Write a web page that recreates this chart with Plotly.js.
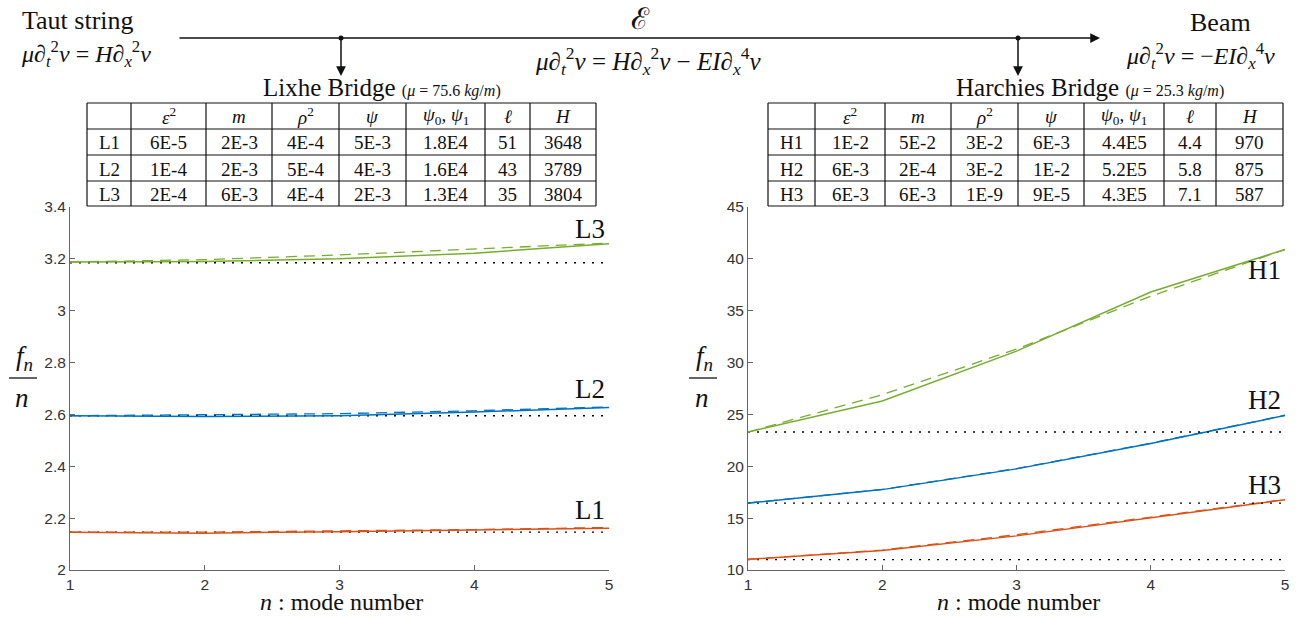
<!DOCTYPE html>
<html>
<head>
<meta charset="utf-8">
<script src="https://cdn.plot.ly/plotly-3.0.1.min.js"></script>
<style>html,body{margin:0;padding:0;background:#fff;}#chart{width:1302px;height:617px;}</style>
</head>
<body>
<div id="chart"></div>
<script>
// ---------- data ----------
const modes = [1, 2, 3, 4, 5];

// Lixhe bridge (left)
const L1_solid  = [2.146, 2.142, 2.148, 2.154, 2.161];
const L1_dashed = [2.146, 2.146, 2.151, 2.156, 2.164];
const L1_base   = 2.146;
const L2_solid  = [2.595, 2.592, 2.595, 2.609, 2.627];
const L2_dashed = [2.595, 2.598, 2.603, 2.614, 2.629];
const L2_base   = 2.595;
const L3_solid  = [3.188, 3.190, 3.200, 3.222, 3.258];
const L3_dashed = [3.188, 3.197, 3.215, 3.237, 3.261];
const L3_base   = 3.185;

// Harchies bridge (right)
const H1_solid  = [23.3, 26.3, 31.1, 36.8, 40.9];
const H1_dashed = [23.3, 26.9, 31.3, 36.4, 40.9];
const H1_base   = 23.3;
const H2_solid  = [16.45, 17.75, 19.75, 22.2, 24.9];
const H2_dashed = [16.45, 17.77, 19.78, 22.22, 24.92];
const H2_base   = 16.45;
const H3_solid  = [11.03, 11.87, 13.29, 15.0, 16.77];
const H3_dashed = [11.03, 11.92, 13.40, 15.10, 16.80];
const H3_base   = 11.0;

// tables
const tableHeader = ["", "<i>ε</i><sup>2</sup>", "<i>m</i>", "<i>ρ</i><sup>2</sup>", "<i>ψ</i>", "<i>ψ</i><sub>0</sub>, <i>ψ</i><sub>1</sub>", "<i>ℓ</i>", "<i>H</i>"];
const L_names = ["L1", "L2", "L3"];
const L_eps2  = ["6E-5", "1E-4", "2E-4"];
const L_m     = ["2E-3", "2E-3", "6E-3"];
const L_rho2  = ["4E-4", "5E-4", "4E-4"];
const L_psi   = ["5E-3", "4E-3", "2E-3"];
const L_psi01 = ["1.8E4", "1.6E4", "1.3E4"];
const L_ell   = ["51", "43", "35"];
const L_H     = ["3648", "3789", "3804"];
const H_names = ["H1", "H2", "H3"];
const H_eps2  = ["1E-2", "6E-3", "6E-3"];
const H_m     = ["5E-2", "2E-4", "6E-3"];
const H_rho2  = ["3E-2", "3E-2", "1E-9"];
const H_psi   = ["6E-3", "1E-2", "9E-5"];
const H_psi01 = ["4.4E5", "5.2E5", "4.3E5"];
const H_ell   = ["4.4", "5.8", "7.1"];
const H_H     = ["970", "875", "587"];

// ---------- styling ----------
const GREEN = '#77AC30', BLUE = '#0072BD', RED = '#D95319';
const SERIF = 'Liberation Serif, DejaVu Serif, serif';
const SANS = 'Liberation Sans, Arial, sans-serif';
const W = 1302, H = 617;
const px = x => x / W;
const py = y => 1 - y / H;
const DASH = '11px,7px';
const DOT = '2px,7px';

const traces = [];
function addSet(xa, ya, solid, dashed, base, color) {
  traces.push({x: modes, y: [base, base, base, base, base], xaxis: xa, yaxis: ya, mode: 'lines',
    line: {color: '#000', width: 1.4, dash: DOT}, hoverinfo: 'skip'});
  traces.push({x: modes, y: dashed, xaxis: xa, yaxis: ya, mode: 'lines',
    line: {color: color, width: 1.3, dash: DASH}});
  traces.push({x: modes, y: solid, xaxis: xa, yaxis: ya, mode: 'lines',
    line: {color: color, width: 1.5}});
}
addSet('x', 'y', L1_solid, L1_dashed, L1_base, RED);
addSet('x', 'y', L2_solid, L2_dashed, L2_base, BLUE);
addSet('x', 'y', L3_solid, L3_dashed, L3_base, GREEN);
addSet('x2', 'y2', H3_solid, H3_dashed, H3_base, RED);
addSet('x2', 'y2', H2_solid, H2_dashed, H2_base, BLUE);
addSet('x2', 'y2', H1_solid, H1_dashed, H1_base, GREEN);

const axisCommon = {
  showgrid: false, zeroline: false, showline: true, linecolor: '#666', linewidth: 1,
  ticks: 'inside', ticklen: 5, tickcolor: '#666', tickwidth: 1,
  tickfont: {family: SANS, size: 15.5, color: '#333'}, fixedrange: true
};

const ann = [];
const shapes = [];
function txt(text, x, y, size, extra) {
  ann.push(Object.assign({text: text, x: px(x), y: py(y), xref: 'paper', yref: 'paper',
    showarrow: false, xanchor: 'center', yanchor: 'middle', borderpad: 0,
    font: {family: SERIF, size: size, color: '#111'}}, extra || {}));
}
function hline(x0, x1, y, w) {
  shapes.push({type: 'line', xref: 'paper', yref: 'paper', x0: px(x0), x1: px(x1), y0: py(y), y1: py(y), line: {color: '#111', width: w || 1}});
}
function vline(x, y0, y1, w) {
  shapes.push({type: 'line', xref: 'paper', yref: 'paper', x0: px(x), x1: px(x), y0: py(y0), y1: py(y1), line: {color: '#111', width: w || 1}});
}
// tables drawn from the arrays
function drawTable(cols, xb, yb) {
  yb.forEach(y => hline(xb[0], xb[xb.length - 1], y, 1.2));
  xb.forEach(x => vline(x, yb[0], yb[yb.length - 1], 1.2));
  tableHeader.forEach((h, j) => { if (h) txt(h, (xb[j] + xb[j + 1]) / 2, (yb[0] + yb[1]) / 2, 19); });
  cols.forEach((col, j) => col.forEach((v, i) =>
    txt(v, (xb[j] + xb[j + 1]) / 2, (yb[i + 1] + yb[i + 2]) / 2 + 1, 19)));
}
drawTable([L_names, L_eps2, L_m, L_rho2, L_psi, L_psi01, L_ell, L_H],
  [87, 131, 206, 272, 339, 406, 485, 530, 596], [103, 129, 155, 181, 206]);
drawTable([H_names, H_eps2, H_m, H_rho2, H_psi, H_psi01, H_ell, H_H],
  [768, 815, 885, 951, 1018, 1084, 1164, 1216, 1283], [103, 129, 155, 181, 206]);

// header
txt('Taut string', 78, 20, 26);
txt('<i>μ</i>∂<sub><i>t</i></sub><sup>2</sup><i>v</i> = <i>H</i>∂<sub><i>x</i></sub><sup>2</sup><i>v</i>', 86, 54, 24);
txt('ℰ', 640, 18, 30);
txt('<i>μ</i>∂<sub><i>t</i></sub><sup>2</sup><i>v</i> = <i>H</i>∂<sub><i>x</i></sub><sup>2</sup><i>v</i> − <i>EI</i>∂<sub><i>x</i></sub><sup>4</sup><i>v</i>', 648, 61, 25);
txt('Beam', 1220, 23, 26);
txt('<i>μ</i>∂<sub><i>t</i></sub><sup>2</sup><i>v</i> = −<i>EI</i>∂<sub><i>x</i></sub><sup>4</sup><i>v</i>', 1200, 56, 24);
txt('Lixhe Bridge <span style="font-size:16px">(<i>μ</i> = 75.6 <i>kg</i>/<i>m</i>)</span>', 382, 87, 25);
txt('Harchies Bridge <span style="font-size:16px">(<i>μ</i> = 25.3 <i>kg</i>/<i>m</i>)</span>', 1090, 87, 25);
// arrows
function arrow(x0, y0, x1, y1) {
  ann.push({x: px(x1), y: py(y1), ax: px(x0), ay: py(y0), xref: 'paper', yref: 'paper',
    axref: 'paper', ayref: 'paper', text: '', showarrow: true, arrowhead: 2, arrowsize: 1.3,
    arrowwidth: 1.5, arrowcolor: '#111'});
}
arrow(178, 38, 1100, 38);
arrow(341, 38, 341, 76);
arrow(1018, 38, 1018, 76);
shapes.push({type: 'circle', xref: 'paper', yref: 'paper', x0: px(338.5), x1: px(343.5), y0: py(40.5), y1: py(35.5), fillcolor: '#111', line: {width: 0}});
shapes.push({type: 'circle', xref: 'paper', yref: 'paper', x0: px(1015.5), x1: px(1020.5), y0: py(40.5), y1: py(35.5), fillcolor: '#111', line: {width: 0}});
// axis titles
txt('<i>n</i> : mode number', 341, 602, 24);
txt('<i>n</i> : mode number', 1018, 602, 24);
txt('<i>f<sub>n</sub></i>', 24, 358, 27);
txt('<i>n</i>', 22, 398, 27);
txt('<i>f<sub>n</sub></i>', 704, 358, 27);
txt('<i>n</i>', 702, 398, 27);
hline(9, 37, 378, 1.3);
hline(689, 717, 378, 1.3);
// series labels
function lab(t, xa, ya, yv, anchor, shift) {
  ann.push({text: t, x: 5, y: yv, xref: xa, yref: ya, showarrow: false, xanchor: 'right',
    yanchor: anchor, yshift: shift, xshift: -2, font: {family: SERIF, size: 27, color: '#111'}});
}
lab('L3', 'x', 'y', L3_solid[4], 'bottom', -2);
lab('L2', 'x', 'y', L2_solid[4], 'bottom', 1);
lab('L1', 'x', 'y', L1_solid[4], 'bottom', 1);
lab('H1', 'x2', 'y2', H1_solid[4], 'top', -3);
lab('H2', 'x2', 'y2', H2_solid[4], 'bottom', -2);
lab('H3', 'x2', 'y2', H3_solid[4], 'bottom', -2);

const layout = {
  width: W, height: H, margin: {l: 0, r: 0, t: 0, b: 0}, showlegend: false,
  paper_bgcolor: '#fff', plot_bgcolor: 'rgba(0,0,0,0)',
  xaxis: Object.assign({}, axisCommon, {domain: [px(70), px(609)], range: [1, 5], tickvals: modes, anchor: 'y'}),
  yaxis: Object.assign({}, axisCommon, {domain: [py(570), py(207)], range: [2, 3.4], dtick: 0.2, tick0: 2, anchor: 'x'}),
  xaxis2: Object.assign({}, axisCommon, {domain: [px(748), px(1285)], range: [1, 5], tickvals: modes, anchor: 'y2'}),
  yaxis2: Object.assign({}, axisCommon, {domain: [py(570), py(207)], range: [10, 45], dtick: 5, tick0: 10, anchor: 'x2'}),
  annotations: ann, shapes: shapes
};
Plotly.newPlot('chart', traces, layout, {staticPlot: true, displayModeBar: false});
</script>
</body>
</html>
